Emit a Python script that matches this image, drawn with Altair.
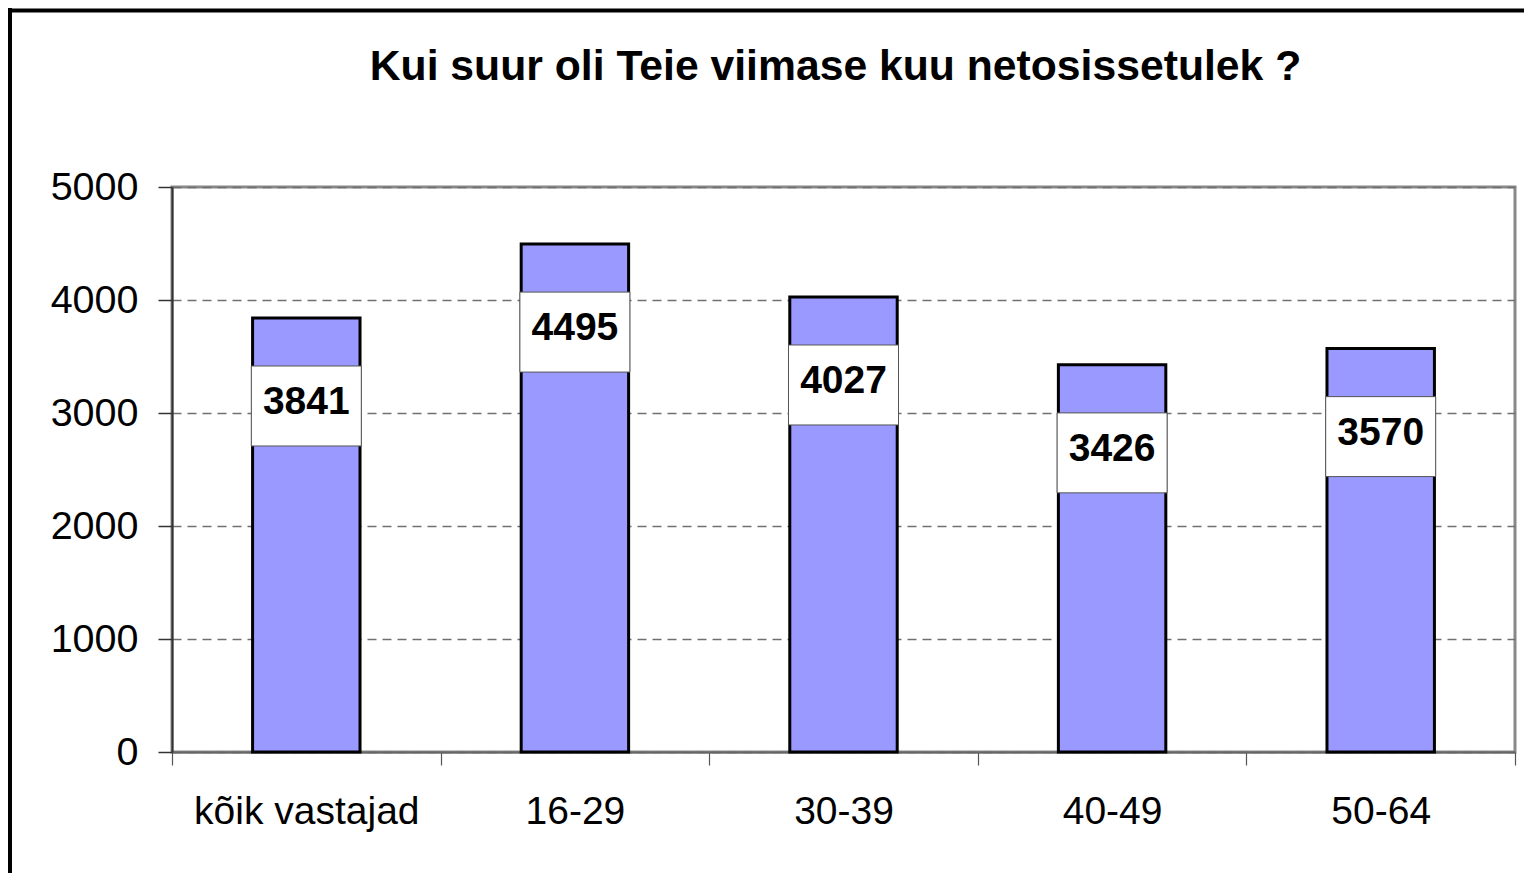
import altair as alt
import pandas as pd

categories = ["kõik vastajad", "16-29", "30-39", "40-49", "50-64"]
values = [3841, 4495, 4027, 3426, 3570]
y_ticks = [0, 1000, 2000, 3000, 4000, 5000]
title_text = "Kui suur oli Teie viimase kuu netosissetulek ?"

df = pd.DataFrame({"group": categories, "value": values})

W, H = 1343, 565
FONT = "Liberation Sans"
LABEL_SHIFT = 779  # label box sits below bar top (in value units)

x_scale = alt.Scale(paddingInner=0, paddingOuter=0)
x_enc = alt.X(
    "group:N", sort=categories, title=None, scale=x_scale,
    axis=alt.Axis(labelAngle=0, labelFontSize=39, labelFont=FONT, labelColor="black",
                  labelLimit=0, labelPadding=27, labelBaseline="top", tickBand="extent",
                  tickSize=13, tickColor="#555555", tickWidth=1.2, domainColor="#666666",
                  domainWidth=2, grid=False),
)
y_scale = alt.Scale(domain=[0, 5000], nice=False)
y_enc = alt.Y(
    "value:Q", title=None, scale=y_scale,
    axis=alt.Axis(values=y_ticks, format="d", labelFontSize=39.5, labelFont=FONT,
                  labelColor="black", labelPadding=20, tickSize=14, tickColor="#333333",
                  tickWidth=1.5, domainColor="#333333", domainWidth=2, grid=True,
                  gridColor="#707070", gridDash=[9, 6], gridWidth=1.5),
)

base = alt.Chart(df)

bars = base.mark_bar(fill="#9999FF", stroke="black", strokeWidth=3,
                     width=alt.RelativeBandSize(0.4)).encode(x=x_enc, y=y_enc)

lab = base.transform_calculate(labelY=f"datum.value - {LABEL_SHIFT}")

boxes = lab.mark_point(
    shape="M-1,-0.727H1V0.727H-1Z", size=110 * 110, filled=True, fill="white",
    stroke="#555555", strokeWidth=1, opacity=1,
).encode(x=alt.X("group:N", sort=categories, scale=x_scale),
         y=alt.Y("labelY:Q", scale=y_scale))

texts = lab.mark_text(
    font=FONT, fontSize=39, fontWeight="bold", color="black", baseline="middle", dy=-4,
).encode(x=alt.X("group:N", sort=categories, scale=x_scale),
         y=alt.Y("labelY:Q", scale=y_scale),
         text=alt.Text("value:Q", format="d"))

frame_data = alt.Data(values=[{"k": 1}])
frame_left = alt.Chart(frame_data).mark_rule(color="black", strokeWidth=4).encode(
    x=alt.value(-162), y=alt.value(-180), y2=alt.value(900))
frame_top = alt.Chart(frame_data).mark_rule(color="black", strokeWidth=4).encode(
    x=alt.value(-164), x2=alt.value(1500), y=alt.value(-176.5))

chart = alt.layer(bars, boxes, texts, frame_left, frame_top).properties(
    width=W, height=H,
    title=alt.Title(title_text, font=FONT, fontSize=42.7, fontWeight="bold", color="black",
                    anchor="middle", frame="group", dx=-8, offset=0,
                    baseline="alphabetic", dy=118),
    autosize=alt.AutoSizeParams(type="none"),
    padding={"left": 164, "top": 179, "right": 9, "bottom": 121},
    background="white",
).configure_view(stroke="#888888", strokeWidth=3)

chart.save("out.html", embed_options={"renderer": "svg", "actions": False})
